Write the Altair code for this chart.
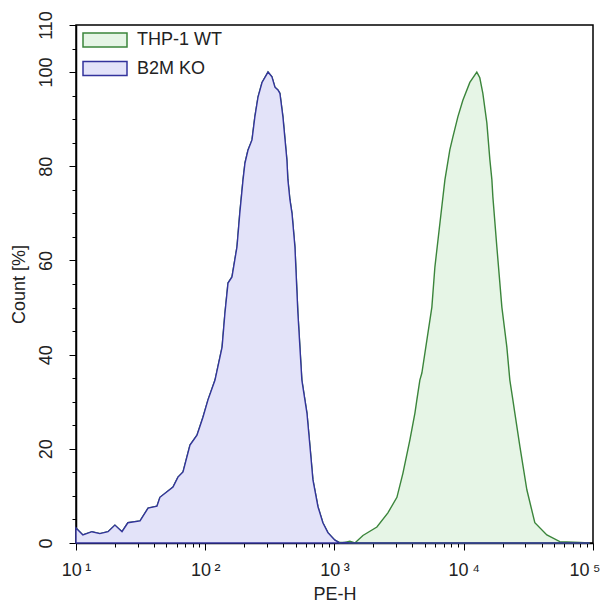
import altair as alt
import pandas as pd

# ---- data ----
series_names = ["THP-1 WT", "B2M KO"]

ko_pe = [10.0, 11.3, 13.3, 15.3, 17.7, 20.0, 22.7, 25.2, 31.3, 36.1, 42.3, 44.6, 56.3, 61.5,
         67.3, 76.2, 86.3, 96.0, 105, 119, 135, 142, 150, 161, 176, 185, 196, 203, 214, 230,
         242, 256, 275, 306, 328, 346, 365, 378, 399, 428, 436, 452, 469, 494, 521, 559, 590,
         612, 646, 681, 745, 813, 889, 1007, 1203, 1438]
ko_count = [3.2, 1.7, 2.4, 2.0, 2.4, 3.8, 2.4, 4.3, 4.7, 7.4, 7.8, 9.7, 11.9, 14.0,
            15.1, 20.8, 22.9, 26.7, 30.4, 34.6, 41.6, 48.8, 55.2, 56.5, 62.9, 70.0, 77.1, 80.7, 83.4, 85.6,
            90.5, 94.7, 97.8, 100, 99.0, 96.8, 96.2, 95.5, 90.5, 81.4, 77.1, 72.9, 70.0, 62.9, 48.8, 34.6, 30.4,
            27.6, 20.5, 13.4, 7.7, 4.3, 2.2, 0.6, 0.1, 0]

wt_pe = [1102, 1315, 1659, 2128, 2588, 3040, 3382, 3831, 4190, 4337, 4575, 4742, 5184, 5667,
         5980, 6539, 7148, 7803, 8234, 9003, 9843, 11146, 12618, 13310, 14052, 15092, 15922,
         16510, 16800, 18030, 19720, 21550, 22730, 23990, 24850, 27180, 30780, 35480, 43960,
         55350, 79070, 94390]
wt_count = [0.1, 0.4, 1.6, 3.4, 6.4, 9.7, 14.8, 21.9, 27.6, 30.4, 34.6, 36.1, 43.1, 50.1,
            58.6, 67.9, 77.1, 83.5, 86.2, 90.5, 94.0, 97.8, 100, 98.8, 95.5, 89.2, 81.4,
            77.1, 73.5, 62.9, 50.1, 41.6, 34.6, 30.4, 27.6, 20.5, 11.3, 4.3, 1.7,
            0.3, 0.1, 0]

x_major = [10, 100, 1000, 10000, 100000]
x_major_labels = ["10\u2009\u00b9", "10\u2009\u00b2", "10\u2009\u00b3", "10\u2009\u2074", "10\u2009\u2075"]
x_minor = [m * d for d in [10, 100, 1000, 10000] for m in range(2, 10)]
y_tick_values = list(range(0, 111, 5))
y_label_values = [0, 20, 40, 60, 80, 100, 110]

fill_colors = ["#e6f5e6", "#e3e3f9"]
stroke_colors = ["#3b853b", "#33339c"]

df = pd.concat([
    pd.DataFrame({"pe": wt_pe, "count": wt_count, "series": series_names[0]}),
    pd.DataFrame({"pe": ko_pe, "count": ko_count, "series": series_names[1]}),
])

FONT = "Liberation Sans, Arial, sans-serif"

label_map = "{" + ",".join(f"'{v}':'{l}'" for v, l in zip(x_major, x_major_labels)) + "}"
x_label_expr = f"{label_map}[datum.value] || ''"
major_test = "indexof([" + ",".join(str(v) for v in x_major) + "], datum.value) >= 0"
last_test = f"datum.value == {x_major[-1]}"
y_label_expr = "indexof([" + ",".join(str(v) for v in y_label_values) + "], datum.value) >= 0 ? datum.value : ''"
y_major_test = "indexof([" + ",".join(str(v) for v in y_label_values) + "], datum.value) >= 0"

legend_symbol = "M-1,-0.32L1,-0.32L1,0.32L-1,0.32Z"


def make_legend():
    return alt.Legend(title=None, orient="none", legendX=6, legendY=5,
                      symbolType=legend_symbol, symbolSize=1936,
                      symbolStrokeWidth=1.5, symbolOpacity=1,
                      labelFontSize=18, labelFont=FONT, labelColor="#222",
                      labelOffset=9, clipHeight=20, rowPadding=8.5, padding=0)


chart = alt.Chart(df).mark_area(strokeWidth=1.4, opacity=1, interpolate="linear").encode(
    x=alt.X("pe:Q",
            scale=alt.Scale(type="log", domain=[10, 100000], nice=False),
            axis=alt.Axis(title="PE-H", values=sorted(x_major + x_minor),
                          labelExpr=x_label_expr, labelOverlap=False, labelFlush=False,
                          labelBound=False,
                          labelAlign={"condition": {"test": last_test, "value": "right"}, "value": "center"},
                          labelOffset={"condition": {"test": last_test, "value": 7}, "value": 0},
                          tickSize={"condition": {"test": major_test, "value": 7}, "value": 4},
                          labelPadding=11, titlePadding=6)),
    y=alt.Y("count:Q",
            scale=alt.Scale(domain=[0, 110], nice=False),
            axis=alt.Axis(title="Count [%]", values=y_tick_values, labelExpr=y_label_expr,
                          labelAngle=270, labelAlign="center", labelBaseline="bottom",
                          labelOverlap=False, labelFlush=False,
                          tickSize={"condition": {"test": y_major_test, "value": 7}, "value": 4},
                          labelPadding=14, titlePadding=9)),
    fill=alt.Fill("series:N",
                  scale=alt.Scale(domain=series_names, range=fill_colors),
                  legend=make_legend()),
    stroke=alt.Stroke("series:N",
                      scale=alt.Scale(domain=series_names, range=stroke_colors),
                      legend=make_legend()),
    order=alt.Order("series:N"),
).properties(
    width=517, height=518,
    autosize=alt.AutoSizeParams(type="none"),
    padding={"left": 68, "top": 17, "right": 7, "bottom": 61},
).configure_view(
    stroke="black", strokeWidth=1.5
).configure_axis(
    domainColor="black", domainWidth=1.5, tickColor="black", tickWidth=1,
    labelFont=FONT, labelFontSize=18, labelColor="#222",
    titleFont=FONT, titleFontSize=18, titleFontWeight="normal", titleColor="#222",
    grid=False, zindex=1,
)

chart.save("out.html", embed_options={"renderer": "svg", "actions": False})
